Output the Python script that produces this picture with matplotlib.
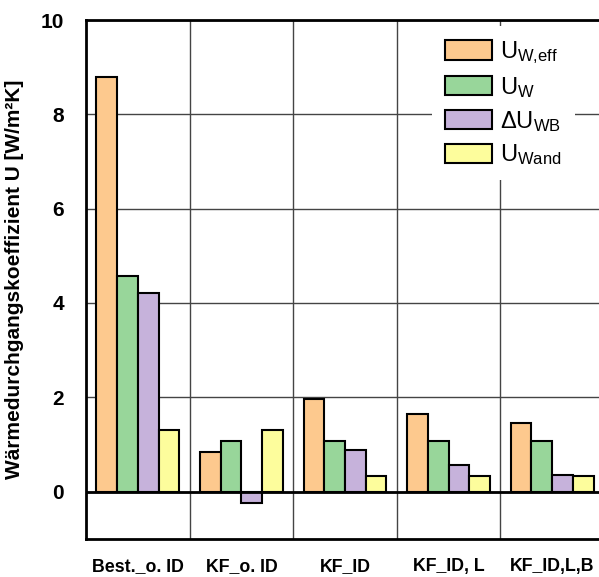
import matplotlib.pyplot as plt
import numpy as np
from matplotlib.patches import Patch

plt.rcParams['font.family'] = ['Liberation Sans', 'DejaVu Sans']
plt.rcParams['mathtext.fontset'] = 'custom'
plt.rcParams['mathtext.rm'] = 'Liberation Sans'
plt.rcParams['mathtext.it'] = 'Liberation Sans'
plt.rcParams['mathtext.bf'] = 'Liberation Sans:bold'

# Varianten und Werte
kategorien = ['Best._o. ID', 'KF_o. ID', 'KF_ID', 'KF_ID, L', 'KF_ID,L,B']
u_w_eff = [8.8, 0.84, 1.97, 1.65, 1.46]
u_w = [4.58, 1.08, 1.08, 1.08, 1.08]
delta_u_wb = [4.2, -0.245, 0.89, 0.56, 0.36]
u_wand = [1.3, 1.3, 0.34, 0.34, 0.33]

reihen = [u_w_eff, u_w, delta_u_wb, u_wand]
namen = [r'U$_{\mathrm{W{,}eff}}$', r'U$_{\mathrm{W}}$', r'ΔU$_{\mathrm{WB}}$', r'U$_{\mathrm{Wand}}$']
farben = ['#FDC98E', '#98D69A', '#C6B2DB', '#FDFD9C']

fig = plt.figure(figsize=(5.99, 5.77), dpi=100)
ax = fig.add_axes([86/599, 1-538.7/577, 518/599, (538.7-20)/577])

x = np.arange(len(kategorien)) + 0.5
breite = 0.2
for i, (werte, farbe) in enumerate(zip(reihen, farben)):
    ax.bar(x + (i - 1.5) * breite, werte, breite, color=farbe, edgecolor='black', linewidth=1.5, zorder=3)

ax.set_xlim(0, len(kategorien))
ax.set_ylim(-1, 10)
ax.set_yticks([0, 2, 4, 6, 8, 10])
ax.set_xticks(x)
ax.set_xticklabels(kategorien, fontsize=12.8, fontweight='bold')
ax.set_yticklabels(['0', '2', '4', '6', '8', '10'], fontsize=15, fontweight='bold')
ax.tick_params(length=0, pad=14)
ax.tick_params(axis='y', pad=16)
ax.set_xticks(np.arange(1, len(kategorien)), minor=True)
ax.tick_params(which='minor', length=0)
ax.grid(True, which='minor', axis='x', color='#444444', linewidth=1)
ax.grid(True, which='major', axis='y', color='#444444', linewidth=1)
ax.set_axisbelow(True)
ax.axhline(0, color='black', linewidth=2, zorder=4)
for s in ax.spines.values():
    s.set_linewidth(2)
ax.set_ylabel('Wärmedurchgangskoeffizient U [W/m²K]', fontsize=15, fontweight='bold', labelpad=12)

griffe = [Patch(facecolor=f, edgecolor='black', linewidth=1.5) for f in farben]
leg = ax.legend(griffe, namen, loc='upper left', bbox_to_anchor=(432/599, 1-26/577),
                bbox_transform=fig.transFigure, fontsize=17, frameon=True, framealpha=1,
                edgecolor='none', fancybox=False, borderaxespad=0, borderpad=0.55,
                handlelength=2.0, handleheight=0.9, handletextpad=0.35, labelspacing=0.38)
leg.set_zorder(5)

fig.savefig('out.png', dpi=100)
